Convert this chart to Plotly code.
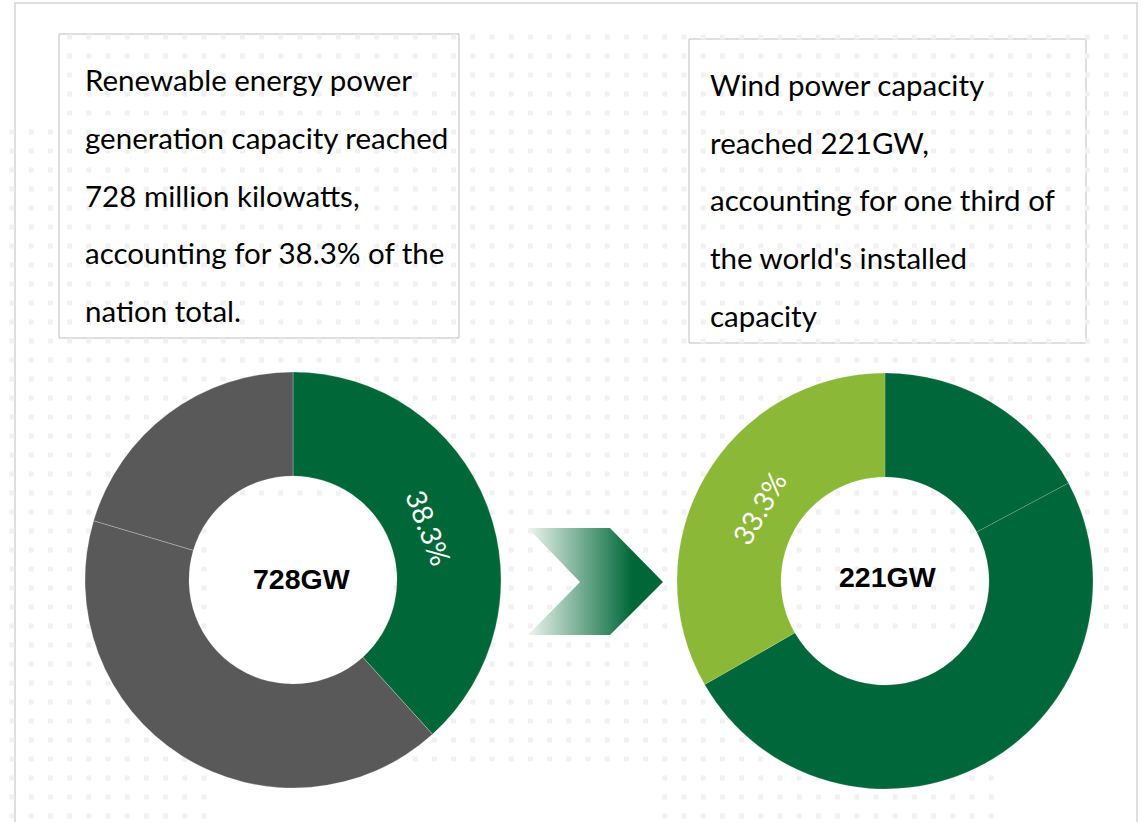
import plotly.graph_objects as go
import numpy as np

W, H = 1143, 822

# ---- data ----
left_labels = ["Renewable", "Other (a)", "Other (b)"]
left_values = [38.3, 41.3, 20.4]
left_colors = ["#006838", "#595959", "#595959"]
left_text = ["38.3%", "", ""]
left_center = "728GW"

right_labels = ["Rest of world (a)", "Rest of world (b)", "China wind"]
right_values = [17.2, 49.5, 33.3]
right_colors = ["#00673A", "#00673A", "#8BB836"]
right_text = ["", "", "33.3%"]
right_center = "221GW"

left_lines = ["Renewable energy power", "generation capacity reached",
              "728 million kilowatts,", "accounting for 38.3% of the",
              "nation total."]
right_lines = ["Wind power capacity", "reached 221GW,",
               "accounting for one third of", "the world's installed",
               "capacity"]

TEXT_FONT = "Lato"
fig = go.Figure()

# ---- faint dotted world-map style background ----
mask_rects = [(0, 210, 130, 820), (60, 400, 20, 130), (200, 1140, 20, 500),
              (380, 660, 480, 760), (660, 1140, 500, 640), (660, 1000, 700, 822)]
dx, dy = [], []
for gx in np.arange(12, W, 19.2):
    for gy in np.arange(18, H, 19):
        if any(a <= gx <= b and c <= gy <= d for a, b, c, d in mask_rects):
            dx.append(gx); dy.append(gy)
fig.add_trace(go.Scatter(x=dx, y=dy, mode="markers", hoverinfo="skip",
                         marker=dict(size=5, color="#f1f1f1", symbol="square"),
                         showlegend=False, xaxis="x", yaxis="y"))

# ---- chevron arrow with gradient ----
cx = [528, 610, 663, 610, 528, 580, 528]
cy = [528, 528, 582, 635, 635, 582, 528]
fig.add_trace(go.Scatter(x=cx, y=cy, mode="lines", fill="toself",
                         line=dict(width=0, color="rgba(0,0,0,0)"),
                         fillgradient=dict(type="horizontal", start=528, stop=632,
                                           colorscale=[[0, "#eef5f0"], [1, "#006838"]]),
                         hoverinfo="skip", showlegend=False, xaxis="x", yaxis="y"))

def px2paper_x(p):
    return p / W

def px2paper_y(p):
    return 1 - p / H

# ---- donuts ----
fig.add_trace(go.Pie(labels=left_labels, values=left_values, sort=False,
                     direction="clockwise", rotation=0, hole=0.5,
                     marker=dict(colors=left_colors,
                                 line=dict(color="rgba(255,255,255,0.35)", width=0.7)),
                     text=left_text, textinfo="text", textposition="inside",
                     insidetextorientation="tangential",
                     textfont=dict(family=TEXT_FONT, size=28, color="white"),
                     domain=dict(x=[px2paper_x(85), px2paper_x(501)],
                                 y=[px2paper_y(788), px2paper_y(372)]),
                     showlegend=False, hoverinfo="label+percent"))
fig.add_trace(go.Pie(labels=right_labels, values=right_values, sort=False,
                     direction="clockwise", rotation=0, hole=0.5,
                     marker=dict(colors=right_colors,
                                 line=dict(color="rgba(255,255,255,0.25)", width=0.6)),
                     text=right_text, textinfo="text", textposition="inside",
                     insidetextorientation="tangential",
                     textfont=dict(family=TEXT_FONT, size=28, color="white"),
                     domain=dict(x=[px2paper_x(677), px2paper_x(1093)],
                                 y=[px2paper_y(789), px2paper_y(373)]),
                     showlegend=False, hoverinfo="label+percent"))

annotations = []
annotations.append(dict(x=301, y=579, xref="x", yref="y",
                        text="<b>%s</b>" % left_center, showarrow=False,
                        font=dict(family="Liberation Sans, Arial", size=28.5, color="black"),
                        xanchor="center", yanchor="middle"))
annotations.append(dict(x=887, y=577, xref="x", yref="y",
                        text="<b>%s</b>" % right_center, showarrow=False,
                        font=dict(family="Liberation Sans, Arial", size=28.5, color="black"),
                        xanchor="center", yanchor="middle"))

left_y = [79, 137, 195, 252, 310]
right_y = [84, 142, 199, 257, 315]
for t, yy in zip(left_lines, left_y):
    annotations.append(dict(x=83, y=yy, xref="x", yref="y", text=t, showarrow=False,
                            xanchor="left", yanchor="middle",
                            font=dict(family=TEXT_FONT, size=29.5, color="black")))
for t, yy in zip(right_lines, right_y):
    annotations.append(dict(x=708, y=yy, xref="x", yref="y", text=t, showarrow=False,
                            xanchor="left", yanchor="middle",
                            font=dict(family=TEXT_FONT, size=29.5, color="black")))

shapes = [
    dict(type="rect", xref="x", yref="y", x0=15, y0=3, x1=1137, y1=840,
         line=dict(color="#d4d4d4", width=1.5), fillcolor="rgba(0,0,0,0)", layer="below"),
    dict(type="rect", xref="x", yref="y", x0=59, y0=34, x1=459, y1=338,
         line=dict(color="#bfbfbf", width=1), fillcolor="rgba(255,255,255,0.6)", layer="below"),
    dict(type="rect", xref="x", yref="y", x0=689, y0=39, x1=1086, y1=343,
         line=dict(color="#bfbfbf", width=1), fillcolor="rgba(255,255,255,0.6)", layer="below"),
]

fig.update_layout(
    width=W, height=H, margin=dict(l=0, r=0, t=0, b=0),
    paper_bgcolor="white", plot_bgcolor="rgba(0,0,0,0)",
    xaxis=dict(range=[0, W], visible=False, domain=[0, 1], fixedrange=True),
    yaxis=dict(range=[H, 0], visible=False, domain=[0, 1], fixedrange=True),
    annotations=annotations, shapes=shapes, showlegend=False,
)
fig.write_html("out.html", config={"displayModeBar": False},
               post_script="document.body.style.margin='0px';document.body.style.overflow='hidden';")
